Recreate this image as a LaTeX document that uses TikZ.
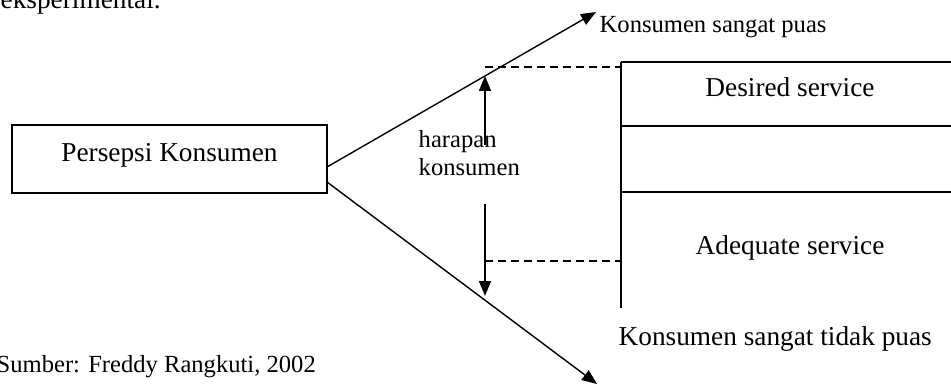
\documentclass[tikz,border=0pt]{standalone}
\usepackage{fontspec}
\setmainfont{Liberation Serif}
\usetikzlibrary{arrows.meta}
\begin{document}
\begin{tikzpicture}[x=1pt,y=-1pt,
  line width=1.4pt,
  tri/.style={-{Triangle[length=15pt,width=12pt]}},
  dsh/.style={line width=1.2pt, dash pattern=on 8pt off 5pt},
  boxnode/.style={draw, line width=1.4pt, minimum width=315pt, minimum height=68pt, inner sep=0pt},
  big/.style={font=\fontsize{27.3}{33}\selectfont, inner sep=0pt},
  small/.style={font=\fontsize{24.6}{28}\selectfont, inner sep=0pt}]
\useasboundingbox (0,0) rectangle (951,385);

% clipped text at top and bottom-left
\node[big, anchor=base west] (top) at (0,9) {eksperimental.};
\node[small, anchor=base west] (src) at (-4,372) {Sumber: Freddy Rangkuti, 2002};

% left box
\node[boxnode] (pk) at (169.5,159) {};
\node[big, anchor=base] (pkt) at (169.5,162) {Persepsi Konsumen};

% fan lines
\coordinate (u0) at (327,167);
\coordinate (u1) at (596,12);
\coordinate (l0) at (327,182);
\coordinate (l1) at (597,384);
\draw[tri] (u0) -- (u1);
\draw[tri] (l0) -- (l1);

\node[small, anchor=base west] (puas) at (599,33) {Konsumen sangat puas};
\node[big, anchor=base west] (tpuas) at (618,345) {Konsumen sangat tidak puas};

% harapan konsumen double arrow
\node[small, anchor=base west] (h1) at (418,148) {harapan};
\node[small, anchor=base west] (h2) at (418,176) {konsumen};
\coordinate (ha) at (485,145);
\coordinate (hat) at (485,76);
\coordinate (hb) at (485,204);
\coordinate (hbt) at (485,296);
\draw[tri] (ha) -- (hat);
\draw[tri] (hb) -- (hbt);

% right table
\coordinate (t0) at (621,62);
\coordinate (t1) at (621,308);
\coordinate (r0) at (955,62);
\coordinate (m1) at (621,126);
\coordinate (r1) at (955,126);
\coordinate (m2) at (621,192);
\coordinate (r2) at (955,192);
\draw (t0) -- (t1);
\draw (t0) -- (r0);
\draw (m1) -- (r1);
\draw (m2) -- (r2);

% dashed guides
\coordinate (d0) at (485,67);
\coordinate (d0e) at (621,67);
\coordinate (d1) at (485,261);
\coordinate (d1e) at (621,261);
\draw[dsh] (d0) -- (d0e);
\draw[dsh] (d1) -- (d1e);

\node[big, anchor=base] (des) at (790,97) {Desired service};
\node[big, anchor=base] (ade) at (790,254) {Adequate service};
\end{tikzpicture}
\end{document}
